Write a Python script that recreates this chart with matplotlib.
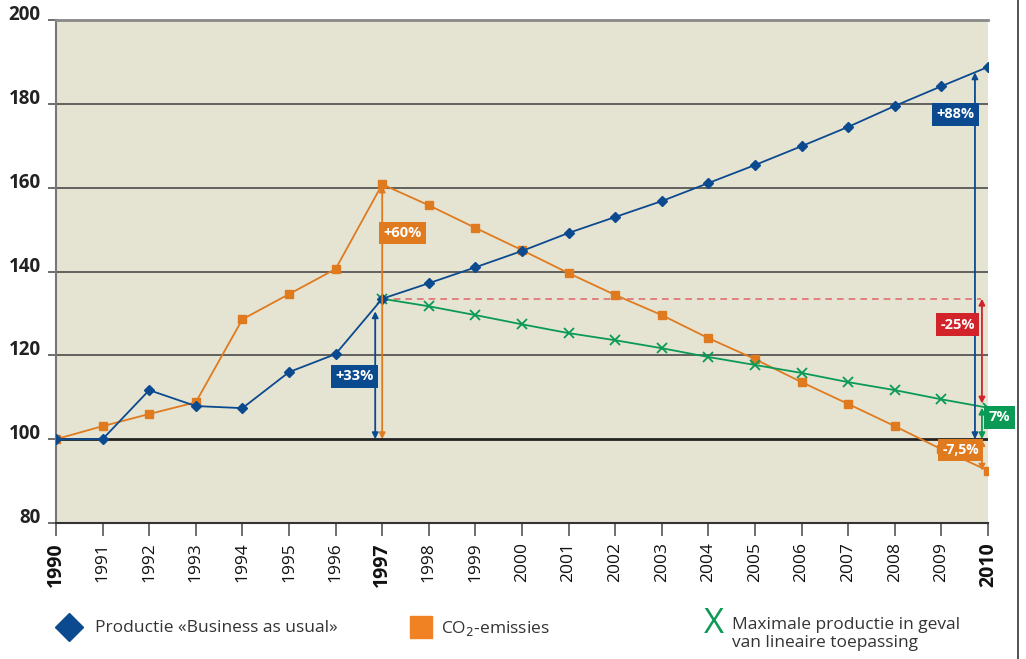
import matplotlib.pyplot as plt
import numpy as np
from matplotlib.lines import Line2D

years = list(range(1990, 2011))
productie = [100, 100, 111.7, 107.9, 107.4, 116, 120.3, 133.5, 137.2, 141, 144.9,
             149.2, 153, 156.8, 161.1, 165.4, 169.9, 174.5, 179.5, 184.2, 188.8]
co2 = [100, 103.1, 106, 108.8, 128.6, 134.6, 140.6, 160.8, 155.8, 150.4, 145.1,
       139.6, 134.4, 129.6, 124.1, 119.1, 113.6, 108.4, 103.1, 97.6, 92.5]
green_years = list(range(1997, 2011))
lineair = [133.5, 131.7, 129.6, 127.4, 125.3, 123.6, 121.7, 119.6, 117.7, 115.8,
           113.6, 111.7, 109.5, 107.5]

blue = "#0B4A8F"
orange = "#E07A1F"
green = "#0A9A55"
red = "#D2232A"

plt.rcParams['font.family'] = ['Open Sans', 'DejaVu Sans']

fig = plt.figure(figsize=(10.26, 6.59), dpi=100)
ax = fig.add_axes([56/1026, 1 - 523/659, 932/1026, 503/659])
ax.set_facecolor("#E5E4D3")
ax.set_xlim(1990, 2010)
ax.set_ylim(80, 200)

for g in [120, 140, 160, 180]:
    ax.axhline(g, color="#4a4a4a", lw=1.2, zorder=1)
ax.axhline(100, color="#222222", lw=2, zorder=1)

ax.plot(years, productie, color=blue, lw=1.3, marker="D", ms=5, zorder=4)
ax.plot(years, co2, color=orange, lw=1.3, marker="s", ms=5.5, zorder=3)
ax.plot(green_years, lineair, color=green, lw=1.3, marker="x", ms=7, mew=1.3, zorder=3)

# dashed reference line from 1997 level
ax.plot([1997, 2009.85], [133.5, 133.5], color="#E07070", lw=1.2, ls=(0, (4, 3)), zorder=2)

def darrow(x, y0, y1, c):
    ax.annotate("", xy=(x, y1), xytext=(x, y0),
                arrowprops=dict(arrowstyle="<|-|>", color=c, lw=1.3,
                                mutation_scale=9, shrinkA=0, shrinkB=0), zorder=5)

def label(x, y, s, c, fs=10.5):
    ax.text(x, y, s, color="white", fontsize=fs, fontweight="bold", ha="center", va="center",
            bbox=dict(boxstyle="square,pad=0.3", fc=c, ec="none"), zorder=6)

darrow(1996.85, 100, 130.5, blue)
label(1996.4, 115, "+33%", blue)
darrow(1997, 100, 160.5, orange)
label(1997.43, 149.2, "+60%", orange)
darrow(2009.72, 100, 187.5, blue)
label(2009.3, 177.5, "+88%", blue)
darrow(2009.87, 108.5, 133.5, red)
label(2009.35, 127.3, "-25%", red)
darrow(2009.87, 100, 107.5, green)
label(2010.25, 105.2, "7%", green)
darrow(2009.87, 92.5, 100, orange)
label(2009.42, 97.4, "-7,5%", orange, fs=10)

ax.set_xticks(years)
ax.set_xticklabels([str(y) for y in years], rotation=90, fontsize=12.5)
for t in ax.get_xticklabels():
    if t.get_text() in ("1990", "1997", "2010"):
        t.set_fontweight("bold")
        t.set_fontsize(14)
ax.set_yticks([80, 100, 120, 140, 160, 180, 200])
ax.set_yticklabels(["80", "100", "120", "140", "160", "180", "200"], fontsize=13.5, fontweight="bold")
ax.tick_params(axis="x", length=9, width=1.2, color="#555555", pad=5)
ax.tick_params(axis="y", length=6, width=1.2, color="#555555", pad=5)
for lbl in ax.get_yticklabels():
    lbl.set_va("baseline")
    lbl.set_color("#222222")
for lbl in ax.get_xticklabels():
    lbl.set_color("#111111")

ax.spines["right"].set_visible(False)
ax.spines["top"].set_color("#888888")
ax.spines["top"].set_linewidth(2)
ax.spines["left"].set_color("#777777")
ax.spines["left"].set_linewidth(1.5)
ax.spines["bottom"].set_color("#333333")
ax.spines["bottom"].set_linewidth(1.5)

# right frame line
fig.add_artist(Line2D([1018/1026, 1018/1026], [0, 1], color="#333333", lw=1.2))

# legend
ax_leg = fig.add_axes([0, 0, 1, 1], facecolor="none")
ax_leg.set_xlim(0, 1026)
ax_leg.set_ylim(659, 0)
ax_leg.axis("off")
ax_leg.plot([69], [627], marker="D", color=blue, ms=14, ls="none")
ax_leg.text(95, 628, "Productie «Business as usual»", fontsize=12.5, va="center", color="#333333")
ax_leg.plot([421], [627], marker="s", color="#F08224", ms=16, ls="none")
ax_leg.text(441, 628, "CO$_2$-emissies", fontsize=12.5, va="center", color="#333333")
ax_leg.text(714, 624, "X", fontsize=25, color=green, ha="center", va="center")
ax_leg.text(732, 617, "Maximale productie in geval\nvan lineaire toepassing", fontsize=12.5,
            va="top", color="#333333", linespacing=1.2)

fig.savefig("out.png", dpi=100)
